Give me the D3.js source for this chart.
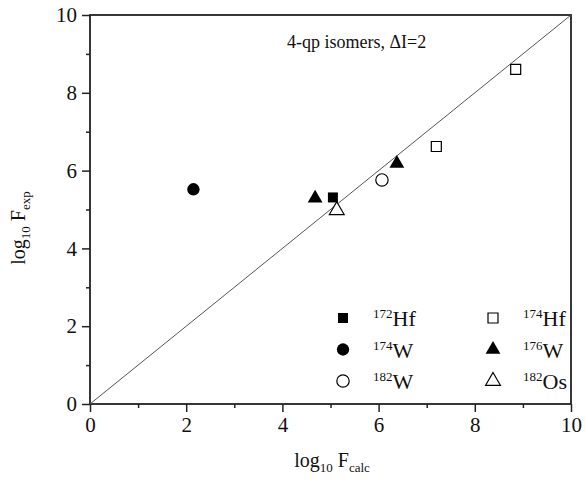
<!DOCTYPE html>
<html>
<head>
<meta charset="utf-8">
<script src="https://cdn.jsdelivr.net/npm/d3@7"></script>
<style>
  body { margin: 0; background: #fff; }
</style>
</head>
<body>
<div id="chart"></div>
<script>
// data
var hf172 = [[5.05, 5.31]];
var hf174 = [[7.2, 6.62], [8.85, 8.6]];
var w174 = [[2.15, 5.52]];
var w176 = [[4.68, 5.29], [6.38, 6.18]];
var w182 = [[6.07, 5.76]];
var os182 = [[5.13, 4.98]];
var xTicks = [0, 2, 4, 6, 8, 10];
var yTicks = [0, 2, 4, 6, 8, 10];

var FONT = "Liberation Serif";

var series = [
  { name: "Hf", mass: "172", data: hf172, shape: d3.symbolSquare, fill: true },
  { name: "Hf", mass: "174", data: hf174, shape: d3.symbolSquare, fill: false },
  { name: "W", mass: "174", data: w174, shape: d3.symbolCircle, fill: true },
  { name: "W", mass: "176", data: w176, shape: d3.symbolTriangle, fill: true },
  { name: "W", mass: "182", data: w182, shape: d3.symbolCircle, fill: false },
  { name: "Os", mass: "182", data: os182, shape: d3.symbolTriangle, fill: false }
];

var margin = { left: 90, right: 15, top: 15, bottom: 78 };
var width = 586 - margin.left - margin.right;
var height = 482 - margin.top - margin.bottom;

var svg = d3.select("#chart").append("svg")
  .attr("width", 586)
  .attr("height", 482)
  .attr("font-family", FONT);

var g = svg.append("g")
  .attr("transform", "translate(" + margin.left + "," + margin.top + ")");

var x = d3.scaleLinear().domain([0, 10]).range([0, width]);
var y = d3.scaleLinear().domain([0, 10]).range([height, 0]);

// minor ticks
g.append("g").attr("transform", "translate(0," + height + ")")
  .call(d3.axisBottom(x).tickValues(d3.range(1, 10, 2)).tickSize(4).tickFormat(""))
  .call(a => a.select(".domain").remove())
  .selectAll("line").attr("stroke-width", 1.5).attr("stroke", "#222");
g.append("g")
  .call(d3.axisLeft(y).tickValues(d3.range(1, 10, 2)).tickSize(4).tickFormat(""))
  .call(a => a.select(".domain").remove())
  .selectAll("line").attr("stroke-width", 1.5).attr("stroke", "#222");

// major ticks
var xAxis = g.append("g").attr("transform", "translate(0," + height + ")")
  .call(d3.axisBottom(x).tickValues(xTicks).tickSize(8).tickSizeOuter(0).tickPadding(5));
var yAxis = g.append("g")
  .call(d3.axisLeft(y).tickValues(yTicks).tickSize(8).tickSizeOuter(0).tickPadding(5));
[xAxis, yAxis].forEach(a => {
  a.attr("font-family", FONT).attr("font-size", 21);
  a.selectAll("line").attr("stroke-width", 1.5).attr("stroke", "#222");
  a.select(".domain").remove();
  a.selectAll("text").attr("font-family", FONT).attr("font-size", 21).attr("fill", "#111");
});

// frame
g.append("rect").attr("width", width).attr("height", height)
  .attr("fill", "none").attr("stroke", "#222").attr("stroke-width", 1.8);

// diagonal y = x
g.append("line")
  .attr("x1", x(0)).attr("y1", y(0)).attr("x2", x(10)).attr("y2", y(10))
  .attr("stroke", "#555").attr("stroke-width", 1);

function symSize(s) {
  return s === d3.symbolCircle ? 120 : (s === d3.symbolSquare ? 100 : 95);
}

series.forEach(s => {
  g.selectAll(null).data(s.data).enter().append("path")
    .attr("d", d3.symbol().type(s.shape).size(symSize(s.shape)))
    .attr("transform", d => "translate(" + x(d[0]) + "," + y(d[1]) + ")")
    .attr("fill", s.fill ? "#000" : "#fff")
    .attr("stroke", "#000")
    .attr("stroke-width", s.fill ? 0 : 1.2);
});

// legend
var legend = g.append("g").attr("transform", "translate(253,303)");
series.forEach((s, i) => {
  var col = i % 2, row = Math.floor(i / 2);
  var lg = legend.append("g").attr("transform", "translate(" + (col * 150) + "," + (row * 31.5) + ")");
  lg.append("path")
    .attr("d", d3.symbol().type(s.shape).size(symSize(s.shape)))
    .attr("fill", s.fill ? "#000" : "#fff")
    .attr("stroke", "#000")
    .attr("stroke-width", s.fill ? 0 : 1.2);
  var t = lg.append("text").attr("x", 30).attr("y", 8)
    .attr("font-family", FONT).attr("font-size", 22).attr("fill", "#111");
  t.append("tspan").text(s.mass).attr("font-size", 13).attr("dy", -8);
  t.append("tspan").text(s.name).attr("dy", 8);
});

// title
g.append("text").attr("x", 197).attr("y", 33)
  .attr("font-family", FONT).attr("font-size", 18).attr("fill", "#111")
  .text("4-qp isomers, \u0394I=2");

// axis labels
var xl = svg.append("text").attr("x", 332).attr("y", 467)
  .attr("text-anchor", "middle").attr("font-family", FONT).attr("font-size", 20).attr("fill", "#111");
xl.append("tspan").text("log");
xl.append("tspan").text("10").attr("font-size", 13).attr("dy", 5);
xl.append("tspan").text(" F").attr("dy", -5);
xl.append("tspan").text("calc").attr("font-size", 13).attr("dy", 5);

var yl = svg.append("text")
  .attr("transform", "translate(25,228) rotate(-90)")
  .attr("text-anchor", "middle").attr("font-family", FONT).attr("font-size", 20).attr("fill", "#111");
yl.append("tspan").text("log");
yl.append("tspan").text("10").attr("font-size", 13).attr("dy", 5);
yl.append("tspan").text(" F").attr("dy", -5);
yl.append("tspan").text("exp").attr("font-size", 13).attr("dy", 5);
</script>
</body>
</html>
